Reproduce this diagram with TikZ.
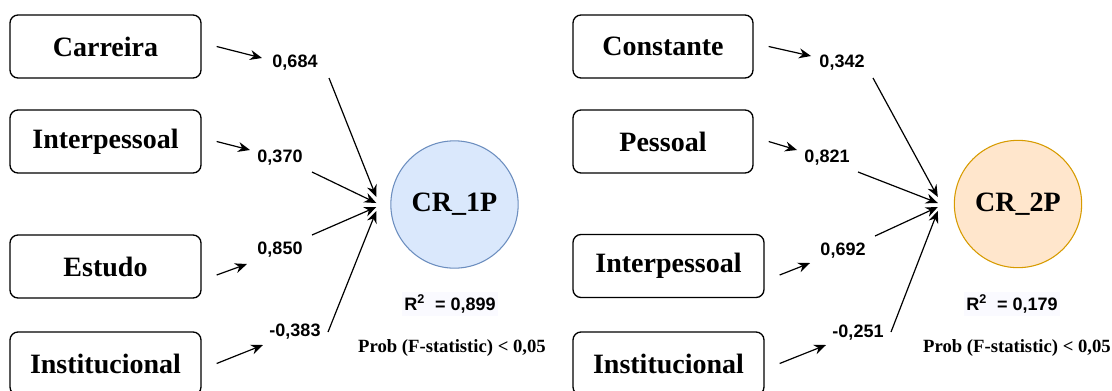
\documentclass[tikz,border=0pt]{standalone}
\usepackage{fontspec}
\setmainfont{Liberation Serif}
\setsansfont{Liberation Sans}
\usepackage{xcolor}
\usetikzlibrary{positioning, arrows.meta}

\definecolor{crblue}{HTML}{DAE8FC}
\definecolor{crblueline}{HTML}{6C8EBF}
\definecolor{crorange}{HTML}{FFE6CC}
\definecolor{crorangeline}{HTML}{D79B00}
\newcommand{\sqsup}{\textsuperscript{\fontsize{9.5}{10}\selectfont 2}}

\begin{document}
\begin{tikzpicture}[
    x=0.75pt, y=-0.75pt,
    var/.style={draw, line width=1pt, rounded corners=6pt, minimum width=143.25pt, minimum height=47.25pt,
      font=\fontsize{21}{24}\selectfont\bfseries},
    resp/.style={circle, line width=0.8pt, minimum size=95.5pt, inner sep=0pt, font=\fontsize{21}{24}\selectfont\bfseries},
    coef/.style={inner sep=0pt, font=\sffamily\bfseries\fontsize{13.5}{15}\selectfont},
    rsq/.style={inner sep=2pt, fill=blue!2, font=\sffamily\bfseries\fontsize{13.5}{16}\selectfont},
    prob/.style={inner sep=0pt, font=\bfseries\fontsize{14}{16}\selectfont},
    arr/.style={-{Stealth[length=9pt, width=7.5pt]}, line width=0.9pt}]
    \useasboundingbox (0,0) rectangle (1112,390);
    % modelo 1
    \node[var] (car) at (105.5,46.5) {Carreira};
    \node[var] (inter) at (105.5,141.5) {Interpessoal};
    \node[var] (est) at (105.5,266.5) {Estudo};
    \node[var] (inst) at (105.5,363.5) {Institucional};
    \node[resp, fill=crblue, draw=crblueline] (cr1) at (454.5,204.5) {CR\_1P};
    \node[coef] (w1) at (295,63) {0,684};
    \node[coef] (w2) at (280,158) {0,370};
    \node[coef] (w3) at (280,250) {0,850};
    \node[coef] (w4) at (295,332) {-0,383};
    \node[rsq] (r1) at (450,304) {R\sqsup\ \ = 0,899};
    \node[prob] (p1) at (452,348) {Prob (F-statistic) < 0,05};
    \draw[arr] ([shift={(15,0)}]car.east) -- ([shift={(-33,-5)}]w1.center);
    \draw[arr] ([shift={(15,0)}]inter.east) -- ([shift={(-30,-8)}]w2.center);
    \draw[arr] ([shift={(15,8.5)}]est.east) -- ([shift={(-33,14)}]w3.center);
    \draw[arr] ([shift={(15,0)}]inst.east) -- ([shift={(-32,13)}]w4.center);
    \draw[arr] ([shift={(34,15)}]w1.center) -- ([shift={(-14,-7.5)}]cr1.west);
    \draw[arr] ([shift={(32,14)}]w2.center) -- ([shift={(-14,-1.5)}]cr1.west);
    \draw[arr] ([shift={(32,-15)}]w3.center) -- ([shift={(-14,2.5)}]cr1.west);
    \draw[arr] ([shift={(33,0)}]w4.center) -- ([shift={(-14,6.5)}]cr1.west);
    % modelo 2
    \node[var, minimum width=135pt] (cons) at (663,46.5) {Constante};
    \node[var, minimum width=135pt] (pess) at (663,141.5) {Pessoal};
    \node[var] (inter2) at (668.5,266) {Interpessoal};
    \node[var] (inst2) at (668.5,363.5) {Institucional};
    \node[resp, fill=crorange, draw=crorangeline] (cr2) at (1018,204) {CR\_2P};
    \node[coef] (w5) at (842,63) {0,342};
    \node[coef] (w6) at (827,158) {0,821};
    \node[coef] (w7) at (843,251) {0,692};
    \node[coef] (w8) at (858,333) {-0,251};
    \node[rsq] (r2) at (1012,304) {R\sqsup\ \ = 0,179};
    \node[prob] (p2) at (1017,348) {Prob (F-statistic) < 0,05};
    \draw[arr] ([shift={(15,0)}]cons.east) -- ([shift={(-31,-7)}]w5.center);
    \draw[arr] ([shift={(15,0)}]pess.east) -- ([shift={(-30,-8)}]w6.center);
    \draw[arr] ([shift={(15,9)}]inter2.east) -- ([shift={(-33,12)}]w7.center);
    \draw[arr] ([shift={(15,0)}]inst2.east) -- ([shift={(-32,12)}]w8.center);
    \draw[arr] ([shift={(31,15)}]w5.center) -- ([shift={(-16,-7)}]cr2.west);
    \draw[arr] ([shift={(31,14)}]w6.center) -- ([shift={(-16,-1)}]cr2.west);
    \draw[arr] ([shift={(32,-15)}]w7.center) -- ([shift={(-16,3)}]cr2.west);
    \draw[arr] ([shift={(33,-1)}]w8.center) -- ([shift={(-16,7)}]cr2.west);
\end{tikzpicture}
\end{document}
